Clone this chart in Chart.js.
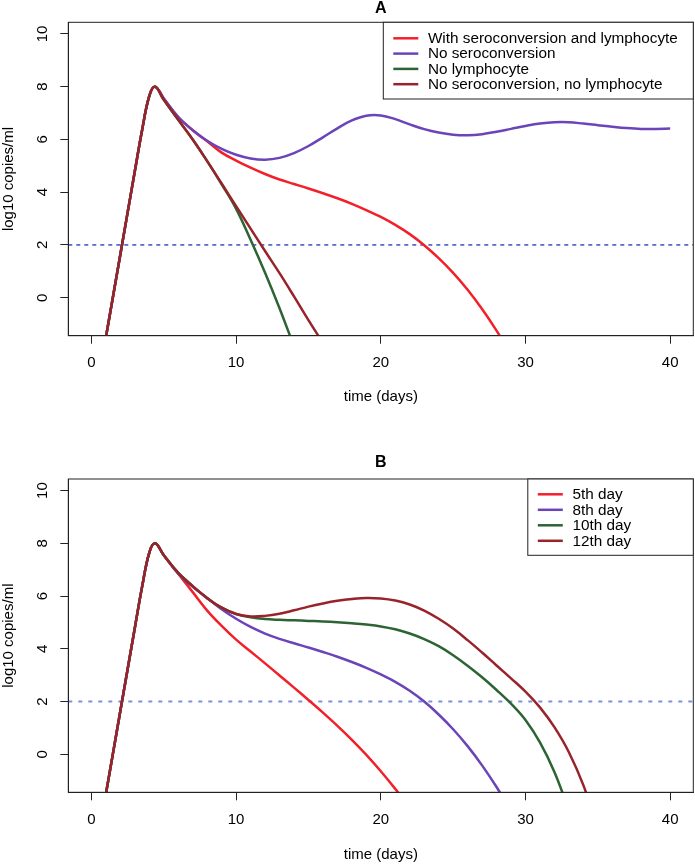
<!DOCTYPE html>
<html>
<head>
<meta charset="utf-8">
<title>Viral load simulations</title>
<script src="https://cdn.jsdelivr.net/npm/chart.js@4.4.1/dist/chart.umd.min.js"></script>
<style>
  html, body { margin: 0; padding: 0; background: #fff; }
  .panel { position: relative; width: 695px; height: 432px; }
</style>
</head>
<body>
<div class="panel"><canvas id="chartA" width="695" height="432"></canvas></div>
<div class="panel"><canvas id="chartB" width="695" height="432"></canvas></div>
<script>
// time points (days) shared by every curve
const days = [1, 2, 3, 3.5, 4, 4.4, 5, 6, 7, 8, 9, 10, 11, 12, 13, 14, 15, 16, 17, 18, 19, 20,
  21, 22, 23, 24, 25, 26, 27, 28, 29, 30, 31, 32, 33, 34, 35, 36, 37, 38, 39, 40];

const xTicks = [0, 10, 20, 30, 40];
const yTicks = [0, 2, 4, 6, 8, 10];
const detectionLimit = 2;

// panel A, log10 copies/ml
const labelsA = ["With seroconversion and lymphocyte", "No seroconversion", "No lymphocyte", "No seroconversion, no lymphocyte"];
const seroLymphA = [-1.5, 1.65, 4.8, 6.35, 7.65, 8.0, 7.55, 6.85, 6.35, 5.93, 5.50, 5.20, 4.93, 4.69, 4.48, 4.31,
  4.14, 3.96, 3.77, 3.56, 3.32, 3.06, 2.76, 2.41, 1.99, 1.50, 0.94, 0.30, -0.43, -1.25, -2.15];
const noSeroA = [-1.5, 1.65, 4.8, 6.35, 7.65, 8.0, 7.55, 6.85, 6.35, 5.95, 5.64, 5.42, 5.28, 5.23, 5.30, 5.48,
  5.75, 6.08, 6.42, 6.72, 6.90, 6.91, 6.77, 6.57, 6.39, 6.26, 6.18, 6.16, 6.20, 6.29, 6.40, 6.51, 6.60, 6.65,
  6.65, 6.60, 6.54, 6.48, 6.43, 6.40, 6.40, 6.41];
const noLymphA = [-1.5, 1.65, 4.8, 6.35, 7.65, 8.0, 7.5, 6.75, 6.0, 5.18, 4.30, 3.37, 2.2, 0.95, -0.4, -1.85];
const noSeroNoLymphA = [-1.5, 1.65, 4.8, 6.35, 7.65, 8.0, 7.5, 6.75, 6.0, 5.18, 4.33, 3.47, 2.62, 1.77, 0.93, 0.05,
  -0.85, -1.72];

// panel B, log10 copies/ml
const labelsB = ["5th day", "8th day", "10th day", "12th day"];
const day5B = [-1.5, 1.65, 4.8, 6.35, 7.65, 8.0, 7.55, 6.85, 6.15, 5.45, 4.87, 4.35, 3.90, 3.45, 2.99, 2.53,
  2.06, 1.58, 1.08, 0.55, -0.02, -0.64, -1.31, -2.03];
const day8B = [-1.5, 1.65, 4.8, 6.35, 7.65, 8.0, 7.55, 6.85, 6.35, 5.93, 5.50, 5.14, 4.83, 4.58, 4.38, 4.21,
  4.05, 3.88, 3.70, 3.50, 3.28, 3.03, 2.75, 2.41, 2.00, 1.51, 0.95, 0.31, -0.42, -1.24, -2.14];
const day10B = [-1.5, 1.65, 4.8, 6.35, 7.65, 8.0, 7.55, 6.88, 6.38, 5.92, 5.56, 5.32, 5.20, 5.13, 5.10, 5.08,
  5.06, 5.04, 5.01, 4.97, 4.92, 4.85, 4.74, 4.58, 4.37, 4.10, 3.76, 3.36, 2.92, 2.44, 1.92, 1.30, 0.45, -0.67, -2.12];
const day12B = [-1.5, 1.65, 4.8, 6.35, 7.65, 8.0, 7.55, 6.88, 6.38, 5.92, 5.56, 5.32, 5.23, 5.25, 5.33, 5.46,
  5.60, 5.72, 5.82, 5.89, 5.93, 5.91, 5.83, 5.68, 5.45, 5.14, 4.77, 4.33, 3.86, 3.37, 2.88, 2.38, 1.78, 1.03,
  0.08, -1.17, -2.8];

const colors = ["#f2202a", "#6a44b8", "#2c6434", "#99232a"];

Chart.defaults.font.family = "'Liberation Sans', Arial, Helvetica, sans-serif";
Chart.defaults.font.size = 15;
Chart.defaults.color = "#000";

const xMin = -1.6, xMax = 41.6, yMin = -1.44, yMax = 10.44;

const toPoints = (values) => values.map((v, i) => ({ x: days[i], y: v }));

// box around the plot region, like R's box()
const boxPlugin = {
  id: "plotBox",
  afterDatasetsDraw(chart) {
    const { ctx, chartArea: a } = chart;
    ctx.save();
    ctx.strokeStyle = "#222";
    ctx.lineWidth = 1;
    ctx.strokeRect(a.left, a.top, a.right - a.left, a.bottom - a.top);
    ctx.restore();
  },
};

// legend drawn inside the top right corner
const legendPlugin = {
  id: "innerLegend",
  afterDraw(chart, args, opts) {
    const { ctx, chartArea: a } = chart;
    const left = a.right - opts.width;
    const top = a.top;
    ctx.save();
    ctx.fillStyle = "#fff";
    ctx.fillRect(left, top, opts.width, opts.height);
    ctx.strokeStyle = "#222";
    ctx.lineWidth = 1;
    ctx.strokeRect(left, top, opts.width, opts.height);
    ctx.font = "15.3px 'Liberation Sans', Arial, sans-serif";
    ctx.textBaseline = "middle";
    ctx.textAlign = "left";
    chart.data.datasets
      .filter((ds) => ds.inLegend)
      .forEach((ds, i) => {
        const y = top + opts.firstRow + i * opts.rowGap;
        ctx.strokeStyle = ds.borderColor;
        ctx.lineWidth = 2.5;
        ctx.beginPath();
        ctx.moveTo(left + 10, y);
        ctx.lineTo(left + 35, y);
        ctx.stroke();
        ctx.fillStyle = "#000";
        ctx.fillText(ds.label, left + 44.6, y + 0.5);
      });
    ctx.restore();
  },
};

const makeChart = (id, title, labels, series, setup) => {
  const datasets = series.map((values, i) => ({
    label: labels[i],
    data: toPoints(values),
    borderColor: colors[i],
    borderWidth: 2.5,
    pointRadius: 0,
    tension: 0.4,
    fill: false,
    clip: 0,
    order: series.length - i,
    inLegend: true,
  }));
  datasets.push({
    label: "limit",
    data: [{ x: xMin, y: detectionLimit }, { x: xMax, y: detectionLimit }],
    borderColor: setup.limitColor,
    borderWidth: setup.limitWidth,
    borderDash: setup.limitDash,
    pointRadius: 0,
    fill: false,
    clip: 0,
    order: 10,
    inLegend: false,
  });

  const axisGrid = { drawOnChartArea: false, drawTicks: true, tickLength: 8, color: "#222", lineWidth: 1 };

  return new Chart(document.getElementById(id).getContext("2d"), {
    type: "line",
    data: { datasets },
    plugins: [boxPlugin, legendPlugin],
    options: {
      responsive: false,
      animation: false,
      events: [],
      layout: { padding: setup.padding },
      scales: {
        x: {
          type: "linear",
          min: xMin,
          max: xMax,
          afterBuildTicks: (s) => { s.ticks = xTicks.map((v) => ({ value: v })); },
          ticks: { padding: 10.5, autoSkip: false, maxRotation: 0 },
          grid: axisGrid,
          border: { display: true, color: "#222" },
          title: { display: true, text: "time (days)", padding: { top: setup.xTitleTop, bottom: 0 } },
        },
        y: {
          type: "linear",
          min: yMin,
          max: yMax,
          afterBuildTicks: (s) => { s.ticks = yTicks.map((v) => ({ value: v })); },
          ticks: { padding: 9, autoSkip: false, minRotation: 90, maxRotation: 90, crossAlign: "center" },
          grid: axisGrid,
          border: { display: true, color: "#222" },
          title: { display: true, text: "log10 copies/ml", padding: { top: 0, bottom: 6.3 } },
        },
      },
      plugins: {
        legend: { display: false },
        tooltip: { enabled: false },
        title: {
          display: true,
          text: title,
          fullSize: false,
          font: { size: 16, weight: "bold", lineHeight: 1.1 },
          padding: { top: 0, bottom: setup.titleBottom },
        },
        innerLegend: setup.legend,
      },
    },
  });
};

makeChart("chartA", "A", labelsA, [seroLymphA, noSeroA, noLymphA, noSeroNoLymphA], {
  padding: { top: 0, right: 1.7, bottom: 26, left: 0 },
  titleBottom: 4.7,
  xTitleTop: 5.3,
  limitColor: "#0a22b0",
  limitWidth: 1.2,
  limitDash: [4, 4],
  legend: { width: 310, height: 76.7, firstRow: 16, rowGap: 15.3 },
});

makeChart("chartB", "B", labelsB, [day5B, day8B, day10B, day12B], {
  padding: { top: 22.2, right: 1.7, bottom: 0, left: 0 },
  titleBottom: 7.2,
  xTitleTop: 6.7,
  limitColor: "#7b91de",
  limitWidth: 2,
  limitDash: [4, 6],
  legend: { width: 165.5, height: 76.3, firstRow: 15.3, rowGap: 15.5 },
});
</script>
</body>
</html>
